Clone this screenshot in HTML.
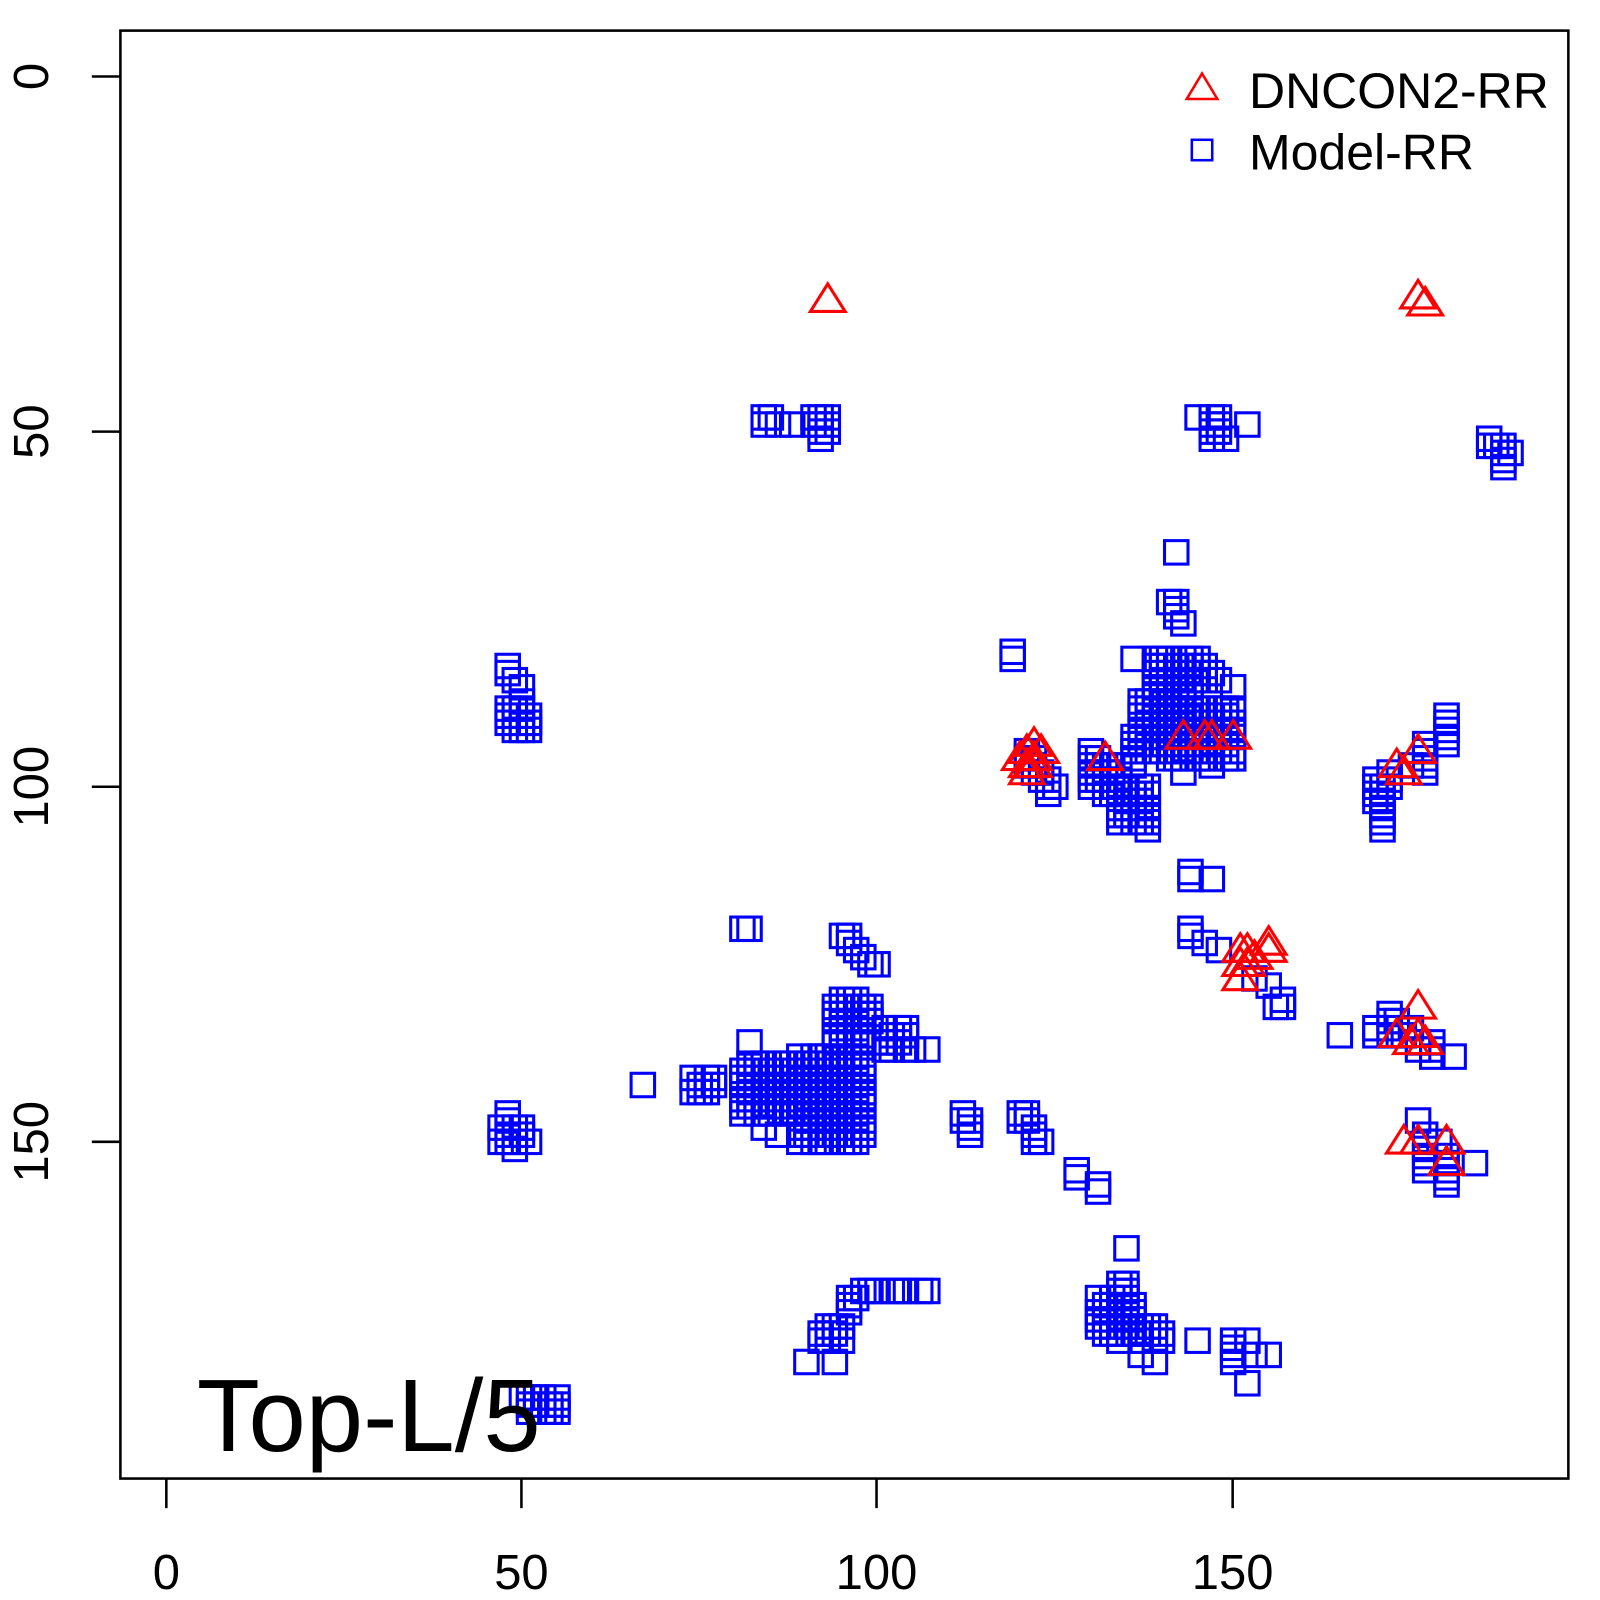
<!DOCTYPE html>
<html><head><style>
html,body{margin:0;padding:0;background:#fff;}
svg{display:block;font-family:"Liberation Sans",Arial,sans-serif;}
</style></head><body>
<svg id="s" width="1600" height="1600" viewBox="0 0 1600 1600" xmlns="http://www.w3.org/2000/svg">
<rect width="1600" height="1600" fill="#fff"/>
<g transform="scale(1.0204)">
<g id="pts"></g>
<rect x="118" y="30" width="1419" height="1419" fill="none" stroke="#000" stroke-width="2.5"/>
<g stroke="#000" stroke-width="2.5">
<line x1="163" y1="1449" x2="163" y2="1478"/>
<line x1="511" y1="1449" x2="511" y2="1478"/>
<line x1="859" y1="1449" x2="859" y2="1478"/>
<line x1="1208" y1="1449" x2="1208" y2="1478"/>
<line x1="90" y1="75" x2="118" y2="75"/>
<line x1="90" y1="423" x2="118" y2="423"/>
<line x1="90" y1="771" x2="118" y2="771"/>
<line x1="90" y1="1119" x2="118" y2="1119"/>
</g>
<g font-size="48" text-anchor="middle" fill="#000">
<text x="163" y="1557">0</text>
<text x="511" y="1557">50</text>
<text x="859" y="1557">100</text>
<text x="1208" y="1557">150</text>
<text transform="translate(47,75) rotate(-90)">0</text>
<text transform="translate(47,423) rotate(-90)">50</text>
<text transform="translate(47,771) rotate(-90)">100</text>
<text transform="translate(47,1119) rotate(-90)">150</text>
</g>
<polygon points="1178,72 1193,97 1163,97" fill="none" stroke="#f00" stroke-width="2.5"/>
<rect x="1168" y="137" width="20" height="20" fill="none" stroke="#00f" stroke-width="2.5"/>
<text x="1224" y="106" font-size="49">DNCON2-RR</text>
<text x="1224" y="166" font-size="49">Model-RR</text>
<text x="193" y="1422" font-size="101">Top-L/5</text>
</g>
</svg>
<script>
var S=[],T=[];
function p(x,y){S.push([x,y]);}
function b(x0,x1,y0,y1){for(var x=x0;x<=x1;x++)for(var y=y0;y<=y1;y++)S.push([x,y]);}
function bs(x0,x1,y0,y1){for(var x=x0;x<=x1;x++)for(var y=y0;y<=y1;y++)if((x*7+y*3)%4!=0)S.push([x,y]);}
// top
b(84,84,48,49);p(85,48);p(86,49);p(88,49);b(91,91,48,49);b(92,92,48,51);b(93,93,48,50);
p(145,48);b(147,147,48,51);b(148,148,48,50);p(149,51);p(152,49);
b(186,186,51,52);p(187,52);b(188,188,52,55);p(189,53);
p(142,67);p(141,74);b(142,142,74,76);p(143,77);b(119,119,81,82);
// central
p(136,82);bs(139,146,82,85);p(147,84);p(148,85);p(150,86);
bs(139,144,86,92);bs(137,142,88,95);b(136,136,93,97);bs(141,150,89,96);p(143,98);p(147,97);p(150,96);
b(130,130,95,100);b(131,131,96,99);bs(132,134,97,101);bs(134,138,100,105);p(138,106);
b(121,121,95,97);b(122,122,96,98);b(123,123,98,99);b(124,124,99,101);p(125,100);
// left
p(48,83);p(48,84);p(49,85);p(50,86);p(50,88);bs(48,51,89,92);
// right
b(170,170,99,102);b(171,171,100,106);b(172,172,98,100);p(175,97);b(177,177,94,98);b(180,180,90,94);
b(144,144,112,113);p(147,113);b(144,144,120,121);p(146,122);p(148,123);
p(153,127);p(155,128);p(156,131);b(157,157,130,131);p(165,135);
b(170,170,134,135);b(172,172,132,135);p(173,133);p(174,135);p(175,134);b(176,176,136,137);b(178,178,136,138);p(181,138);
p(176,147);b(177,177,149,154);p(179,150);b(180,180,152,156);p(184,153);
// lower left
p(81,120);p(82,120);p(95,121);b(96,96,121,122);p(97,123);p(98,124);p(99,125);p(100,125);
bs(94,98,130,136);b(99,99,131,133);bs(101,104,134,137);p(105,137);p(107,137);
p(82,136);bs(81,88,139,146);p(84,148);p(86,149);bs(89,98,138,150);p(98,143);p(97,147);
p(67,142);bs(74,77,141,143);
bs(47,50,148,150);p(48,146);p(48,147);p(49,151);p(51,150);
b(112,112,146,147);b(113,113,147,149);b(120,121,146,147);b(122,122,148,150);p(123,150);
b(128,128,154,155);b(131,131,156,157);p(135,165);
// bottom
bs(98,107,171,171);b(96,96,172,174);p(97,172);bs(92,95,176,178);p(90,181);p(94,181);
bs(131,136,172,177);b(134,135,170,171);bs(137,140,176,178);p(139,181);p(137,180);p(134,178);
p(145,178);b(150,150,178,181);p(152,178);p(152,184);p(153,180);p(155,180);
bs(51,55,186,188);p(50,186);
T=[[93,31.5],[176,31],[177,32],
[120,96],[121,95],[121,97],[122,94],[122,96],[123,95],[121,98],[122,97],
[132,96],[143,93],[146,93],[147,93],[150,93],
[173,97],[174,98],[176,95],
[151,123],[151,125],[152,123],[151,127],[155,122],[155,123],[152,125],[153,124],
[176,131],[173,135],[175,136],[176,135],[177,136],
[174,150],[176,150],[180,150],[180,153]];
var g=document.getElementById('pts'),h='';
S.forEach(function(q){var x=163+6.97*q[0],y=75+6.96*q[1];
h+='<rect x="'+(x-11.5)+'" y="'+(y-11.5)+'" width="23" height="23" fill="none" stroke="#00f" stroke-width="3"/>';});
T.forEach(function(q){var x=163+6.97*q[0],y=75+6.96*q[1];
h+='<polygon points="'+x+','+(y-16)+' '+(x+17)+','+(y+11)+' '+(x-17)+','+(y+11)+'" fill="none" stroke="#f00" stroke-width="3"/>';});
g.innerHTML=h;
</script>
</body></html>
